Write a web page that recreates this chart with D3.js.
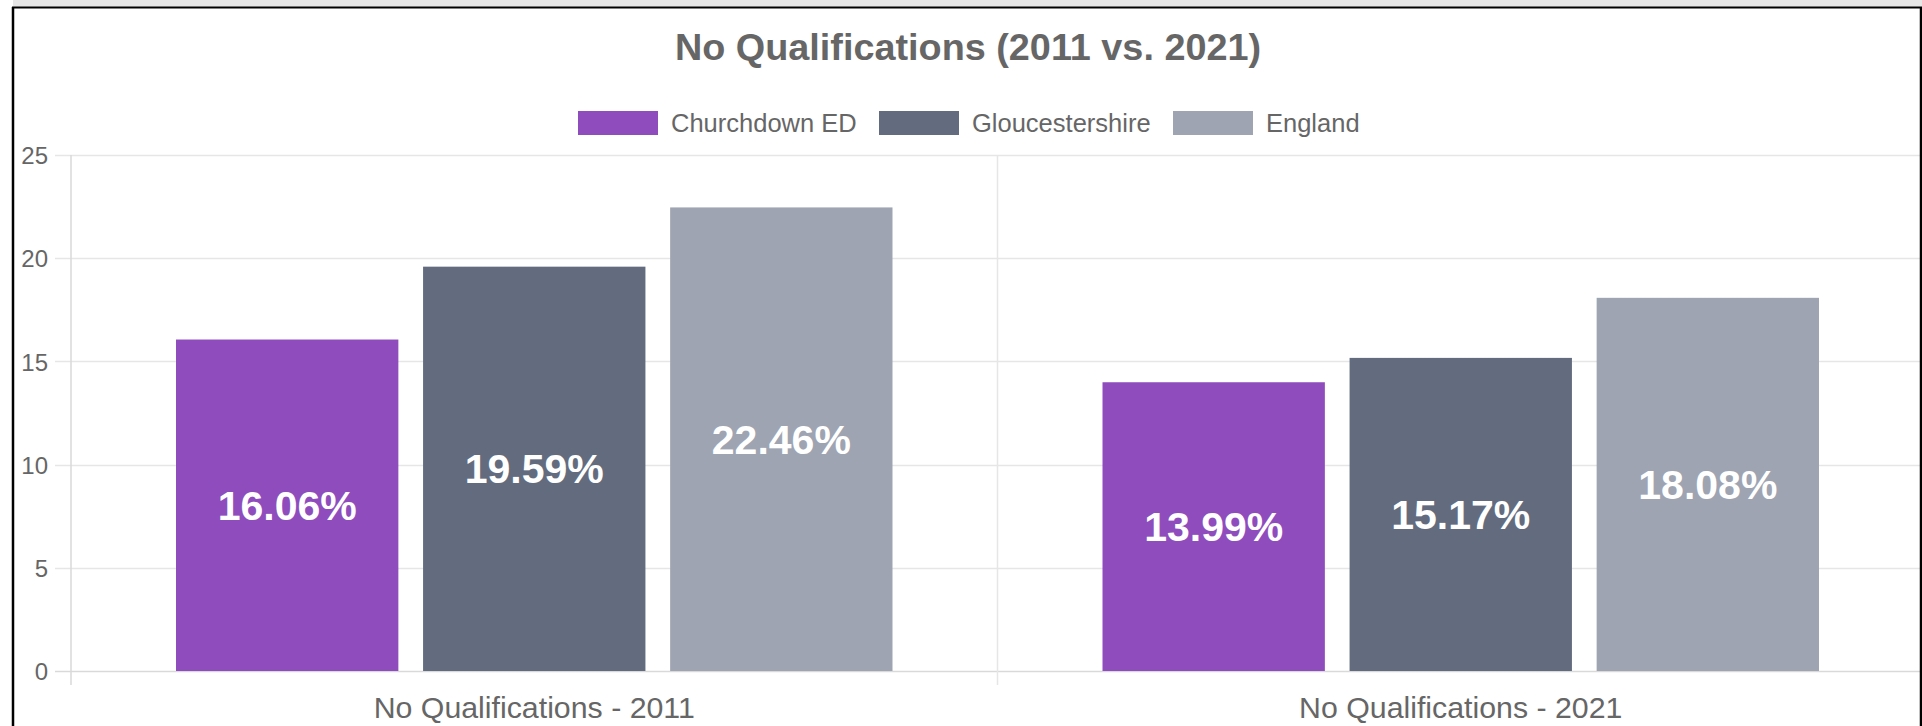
<!DOCTYPE html>
<html>
<head>
<meta charset="utf-8">
<script src="https://cdn.jsdelivr.net/npm/d3@7"></script>
<style>
  html, body { margin: 0; padding: 0; background: #fff; overflow: hidden; }
  svg { display: block; }
  text { font-family: "Liberation Sans", Arial, sans-serif; }
</style>
</head>
<body>
<svg id="chart" width="1922" height="726"></svg>
<script>
const categories = ["No Qualifications - 2011", "No Qualifications - 2021"];
const seriesNames = ["Churchdown ED", "Gloucestershire", "England"];
const churchdownValues = [16.06, 13.99];
const gloucestershireValues = [19.59, 15.17];
const englandValues = [22.46, 18.08];
const yTickValues = [0, 5, 10, 15, 20, 25];
const seriesColors = ["#8E4CBD", "#626C7E", "#9EA4B1"];
const titleText = "No Qualifications (2011 vs. 2021)";

const seriesValues = [churchdownValues, gloucestershireValues, englandValues];

const svg = d3.select("#chart");
const W = 1922, H = 726;

// frame
svg.append("rect").attr("x", 13).attr("y", 0).attr("width", W - 13).attr("height", 7).attr("fill", "#e6e6e6");

const plot = { left: 71, right: 1924, top: 155, bottom: 671 };

const y = d3.scaleLinear().domain([0, 25]).range([plot.bottom, plot.top]);
const x0 = d3.scaleBand().domain(categories).range([plot.left, plot.right]).paddingInner(0).paddingOuter(0);
const x1 = d3.scaleBand().domain(seriesNames)
  .range([x0.bandwidth() * 0.1, x0.bandwidth() * 0.9])
  .paddingInner(0.1).paddingOuter(0.05);

const grid = svg.append("g");
// horizontal grid lines
grid.selectAll("line.h").data(yTickValues).join("line")
  .attr("x1", 55).attr("x2", plot.right)
  .attr("y1", d => Math.round(y(d)) + 0.5).attr("y2", d => Math.round(y(d)) + 0.5)
  .attr("stroke", d => d === 0 ? "#d9d9d9" : "#e6e6e6").attr("stroke-width", 1.5);
// vertical grid lines at category boundaries
const vEdges = categories.map(c => x0(c)).concat([x0(categories[categories.length - 1]) + x0.bandwidth()]);
grid.selectAll("line.v").data(vEdges).join("line")
  .attr("x1", d => d).attr("x2", d => d)
  .attr("y1", plot.top).attr("y2", plot.bottom + 14)
  .attr("stroke", (d, i) => i === 0 ? "#d9d9d9" : "#e6e6e6").attr("stroke-width", 1.5);

// y axis labels
const yAxis = d3.axisLeft(y).tickValues(yTickValues).tickSize(0).tickPadding(0);
const yg = svg.append("g").attr("transform", `translate(48,0)`).call(yAxis);
yg.select(".domain").remove();
yg.selectAll("text").attr("fill", "#666").attr("font-size", 24)
  .attr("font-family", "'Liberation Sans', Arial, sans-serif").attr("dy", "0.36em");

// x axis labels
const xAxis = d3.axisBottom(x0).tickSize(0).tickPadding(0);
const xg = svg.append("g").attr("transform", `translate(0,${plot.bottom})`).call(xAxis);
xg.select(".domain").remove();
xg.selectAll("text").attr("fill", "#666").attr("font-size", 30.3)
  .attr("font-family", "'Liberation Sans', Arial, sans-serif").attr("dy", null).attr("y", 47);

// bars
const barData = [];
categories.forEach((c, ci) => {
  seriesNames.forEach((s, si) => {
    barData.push({ cat: c, series: s, value: seriesValues[si][ci], color: seriesColors[si] });
  });
});
const bars = svg.append("g");
bars.selectAll("rect").data(barData).join("rect")
  .attr("x", d => x0(d.cat) + x1(d.series))
  .attr("y", d => y(d.value))
  .attr("width", x1.bandwidth())
  .attr("height", d => y(0) - y(d.value))
  .attr("fill", d => d.color);

bars.selectAll("text").data(barData).join("text")
  .attr("x", d => x0(d.cat) + x1(d.series) + x1.bandwidth() / 2)
  .attr("y", d => (y(d.value) + y(0)) / 2)
  .attr("dy", "0.35em")
  .attr("text-anchor", "middle")
  .attr("fill", "#fff")
  .attr("font-weight", "bold")
  .attr("font-size", 41)
  .text(d => d.value.toFixed(2) + "%");

// title
svg.append("text").attr("x", 968).attr("y", 60).attr("text-anchor", "middle")
  .attr("fill", "#666").attr("font-weight", "bold").attr("font-size", 37.8)
  .text(titleText);

// legend
const legendItems = [
  { name: seriesNames[0], color: seriesColors[0], x: 578 },
  { name: seriesNames[1], color: seriesColors[1], x: 879 },
  { name: seriesNames[2], color: seriesColors[2], x: 1173 }
];
const lg = svg.append("g");
lg.selectAll("rect").data(legendItems).join("rect")
  .attr("x", d => d.x).attr("y", 111).attr("width", 80).attr("height", 24)
  .attr("fill", d => d.color);
lg.selectAll("text").data(legendItems).join("text")
  .attr("x", d => d.x + 93).attr("y", 123).attr("dy", "0.35em")
  .attr("fill", "#666").attr("font-size", 25.5)
  .text(d => d.name);

// black frame border
svg.append("line").attr("x1", 13).attr("x2", 13).attr("y1", 7).attr("y2", H).attr("stroke", "#000").attr("stroke-width", 2.5);
svg.append("line").attr("x1", 12).attr("x2", W).attr("y1", 7.5).attr("y2", 7.5).attr("stroke", "#000").attr("stroke-width", 2);
svg.append("line").attr("x1", 1921).attr("x2", 1921).attr("y1", 7).attr("y2", H).attr("stroke", "#000").attr("stroke-width", 2.5);
</script>
</body>
</html>
